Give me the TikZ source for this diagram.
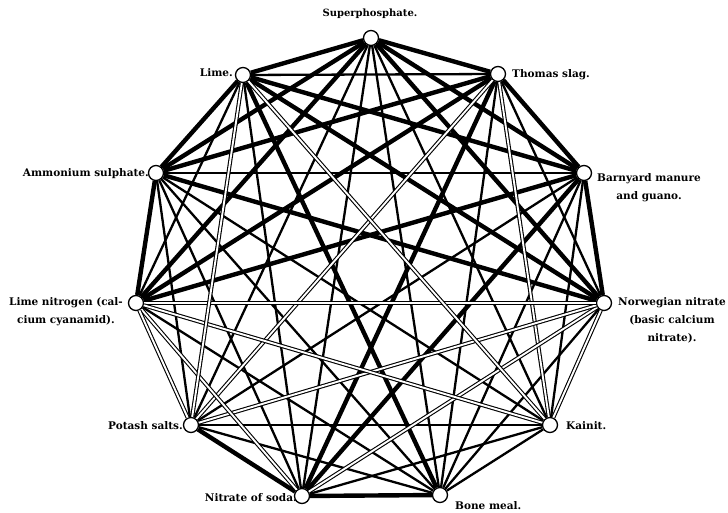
\documentclass[tikz,border=0pt]{standalone}
\usepackage{fontspec}
\setmainfont{DejaVu Serif}
\begin{document}
\begin{tikzpicture}[x=1pt,y=-1pt,
  thickE/.style={line width=4.4pt, draw=black},
  thinE/.style={line width=2.3pt, draw=black},
  dblE/.style={draw=black, double=white, double distance=1.9pt, line width=1.1pt},
  vert/.style={circle, draw=black, line width=1.3pt, fill=white, minimum size=15pt, inner sep=0pt},
  lab/.style={font=\bfseries\fontsize{10.5}{18}\selectfont, align=center, inner sep=0pt}]
\useasboundingbox[fill=white] (0,0) rectangle (728,513);
% vertices
\node[vert] (S)  at (371,38)  {};
\node[vert] (T)  at (498,74)  {};
\node[vert] (B)  at (584,173) {};
\node[vert] (N)  at (604,303) {};
\node[vert] (K)  at (550,425) {};
\node[vert] (BM) at (440,495) {};
\node[vert] (NS) at (302,496) {};
\node[vert] (P)  at (191,425) {};
\node[vert] (LN) at (136,303) {};
\node[vert] (A)  at (156,173) {};
\node[vert] (L)  at (243,75)  {};
% thin edges
\foreach \a/\b in {S/K,S/BM,S/NS,S/P,T/N,T/L,T/BM,B/K,B/BM,B/P,B/A,N/BM,K/BM,K/NS,K/P,K/A,BM/P,BM/LN,BM/A,NS/A,NS/L,P/A,LN/L}
  \draw[thinE] (\a) -- (\b);
% thick edges
\foreach \a/\b in {S/T,S/N,S/LN,S/L,S/A,S/B,T/B,T/A,T/NS,T/LN,B/N,B/LN,B/L,B/NS,N/A,N/L,BM/NS,BM/L,NS/P,LN/A,A/L}
  \draw[thickE] (\a) -- (\b);
% double edges
\foreach \a/\b in {T/K,T/P,N/K,N/NS,N/P,N/LN,K/LN,K/L,NS/LN,P/LN,P/L}
  \draw[dblE] (\a) -- (\b);
% labels
\node[lab, font=\bfseries\fontsize{10}{12}\selectfont] (lS) at (370,14) {Superphosphate.};
\node[lab, anchor=east] (lL) at (233,73) {Lime.};
\node[lab, anchor=west] (lT) at (512,75) {Thomas slag.};
\node[lab, anchor=east] (lA) at (149,174) {Ammonium sulphate.};
\node[lab] (lB) at (649,188) {Barnyard manure\\and guano.};
\node[lab] (lLN) at (66,312) {Lime nitrogen (cal-\\cium cyanamid).};
\node[lab] (lN) at (672,320) {Norwegian nitrate\\(basic calcium\\nitrate).};
\node[lab, anchor=east] (lP) at (183,426) {Potash salts.};
\node[lab, anchor=west] (lK) at (566,426) {Kainit.};
\node[lab, anchor=east] (lNS) at (297,498) {Nitrate of soda.};
\node[lab, anchor=west] (lBM) at (455,506) {Bone meal.};
\end{tikzpicture}
\end{document}
